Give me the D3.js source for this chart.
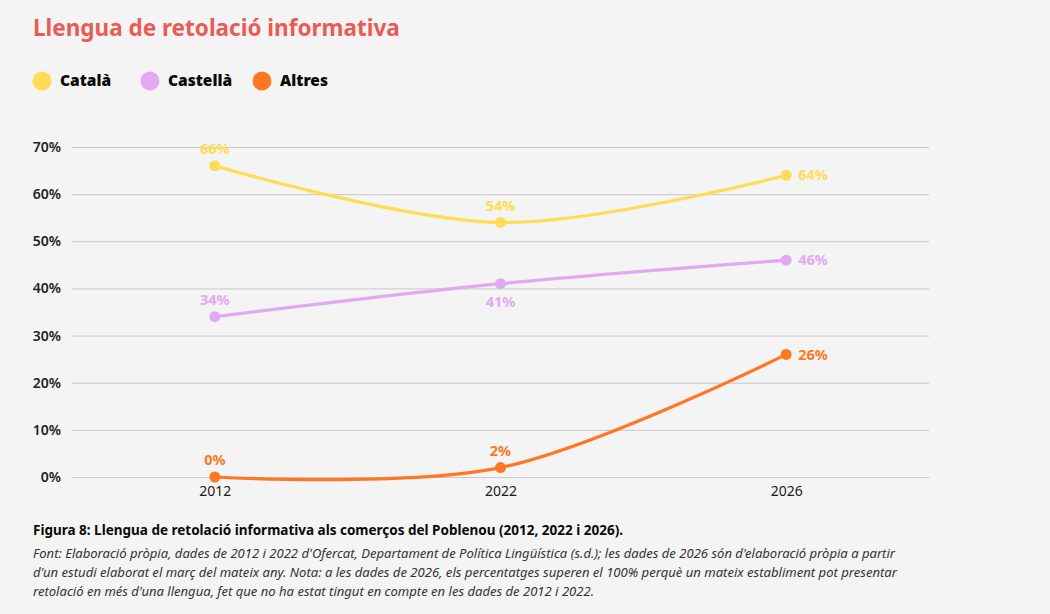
<!DOCTYPE html>
<html>
<head>
<meta charset="utf-8">
<script src="https://cdn.jsdelivr.net/npm/d3@7"></script>
<style>
  html, body { margin: 0; padding: 0; background: #f4f4f4; }
  body { width: 1050px; height: 614px; overflow: hidden; font-family: "Noto Sans", sans-serif; }
  .edge { position: absolute; left: 1029px; top: 0; width: 21px; height: 614px; background: #f5f5f5; border-left: 1px solid #f0f0f0; }
</style>
</head>
<body>
<div class="edge"></div>
<svg id="chart" width="1050" height="614"></svg>
<script>
// Data
var years = ["2012", "2022", "2026"];
var catala = [66, 54, 64];
var castella = [34, 41, 46];
var altres = [0, 2, 26];
var yTicks = [0, 10, 20, 30, 40, 50, 60, 70];

var series = [
  { name: "Català", values: catala, color: "#ffdc55" },
  { name: "Castellà", values: castella, color: "#e2a9f1" },
  { name: "Altres", values: altres, color: "#ff7722" }
];

var svg = d3.select("#chart");
var margin = { left: 72, right: 121, top: 147, bottom: 137 };
var W = 1050, H = 614;

var x = d3.scalePoint().domain(years).range([margin.left, W - margin.right]).padding(0.5);
var y = d3.scaleLinear().domain([0, 70]).range([H - margin.bottom, margin.top]);

// Title
svg.append("text")
  .attr("x", 33).attr("y", 36)
  .attr("fill", "#ec5a55")
  .style("font-size", "22.5px").style("font-weight", 700)
  .text("Llengua de retolació informativa");

// Legend
var legendX = [42, 150, 262];
var legend = svg.selectAll("g.legend").data(series).enter().append("g")
  .attr("class", "legend")
  .attr("transform", function(d, i) { return "translate(" + legendX[i] + ",81)"; });
legend.append("circle").attr("r", 9.5).attr("fill", function(d) { return d.color; });
legend.append("text")
  .attr("x", 18).attr("dy", "0.35em")
  .style("font-size", "15.5px").style("font-weight", 900).attr("fill", "#0a0a0a")
  .text(function(d) { return d.name; });

// Grid + y axis
var yAxis = d3.axisLeft(y).tickValues(yTicks)
  .tickSize(-(W - margin.left - margin.right))
  .tickPadding(11)
  .tickFormat(function(d) { return d + "%"; });
var gy = svg.append("g").attr("transform", "translate(" + margin.left + ",0)").call(yAxis);
gy.select(".domain").remove();
gy.selectAll(".tick line").attr("stroke", "#c8c8c8").attr("stroke-width", 1);
gy.selectAll(".tick text")
  .attr("fill", "#222").style("font-size", "14px").style("font-weight", 600)
  .style("font-family", "'Noto Sans', sans-serif");

// x axis
var gx = svg.append("g").attr("transform", "translate(0," + (H - margin.bottom) + ")")
  .call(d3.axisBottom(x).tickSize(0).tickPadding(9));
gx.select(".domain").remove();
gx.selectAll(".tick text")
  .attr("fill", "#1a1a1a").style("font-size", "14px")
  .style("font-family", "'Noto Sans', sans-serif");

// Lines
var line = d3.line()
  .x(function(d, i) { return x(years[i]); })
  .y(function(d) { return y(d); })
  .curve(d3.curveCatmullRom.alpha(0.5));

var groups = svg.selectAll("g.series").data(series).enter().append("g").attr("class", "series");

groups.append("path")
  .attr("d", function(d) { return line(d.values); })
  .attr("fill", "none")
  .attr("stroke", function(d) { return d.color; })
  .attr("stroke-width", 3.2);

groups.selectAll("circle")
  .data(function(d) { return d.values.map(function(v, i) { return { v: v, i: i, s: d }; }); })
  .enter().append("circle")
  .attr("cx", function(d) { return x(years[d.i]); })
  .attr("cy", function(d) { return y(d.v); })
  .attr("r", 5.5)
  .attr("fill", function(d) { return d.s.color; });

// Value labels: last point to the right, Castellà 2022 below, others above
groups.selectAll("text")
  .data(function(d) { return d.values.map(function(v, i) { return { v: v, i: i, s: d }; }); })
  .enter().append("text")
  .attr("x", function(d) { return x(years[d.i]) + (d.i === years.length - 1 ? 12 : 0); })
  .attr("y", function(d) {
    if (d.i === years.length - 1) return y(d.v);
    if (d.s.name === "Castellà" && d.i === 1) return y(d.v) + 18;
    return y(d.v) - 17;
  })
  .attr("dy", "0.35em")
  .attr("text-anchor", function(d) { return d.i === years.length - 1 ? "start" : "middle"; })
  .attr("fill", function(d) { return d.s.color; })
  .style("font-size", "14.5px").style("font-weight", 700)
  .text(function(d) { return d.v + "%"; });

// Footer
svg.append("text")
  .attr("x", 33).attr("y", 535)
  .attr("fill", "#0a0a0a").style("font-size", "13.5px").style("font-weight", 700)
  .attr("textLength", 590).attr("lengthAdjust", "spacingAndGlyphs")
  .text("Figura 8: Llengua de retolació informativa als comerços del Poblenou (2012, 2022 i 2026).");

var notes = [
  "Font: Elaboració pròpia, dades de 2012 i 2022 d'Ofercat, Departament de Política Lingüística (s.d.); les dades de 2026 són d'elaboració pròpia a partir",
  "d'un estudi elaborat el març del mateix any. Nota: a les dades de 2026, els percentatges superen el 100% perquè un mateix establiment pot presentar",
  "retolació en més d'una llengua, fet que no ha estat tingut en compte en les dades de 2012 i 2022."
];
var noteWidths = [862, 864, 561];
svg.selectAll("text.note").data(notes).enter().append("text")
  .attr("class", "note")
  .attr("x", 33).attr("y", function(d, i) { return 558 + i * 19; })
  .attr("fill", "#333").style("font-size", "13px").style("font-style", "italic")
  .attr("textLength", function(d, i) { return noteWidths[i]; })
  .attr("lengthAdjust", "spacingAndGlyphs")
  .text(function(d) { return d; });
</script>
</body>
</html>
